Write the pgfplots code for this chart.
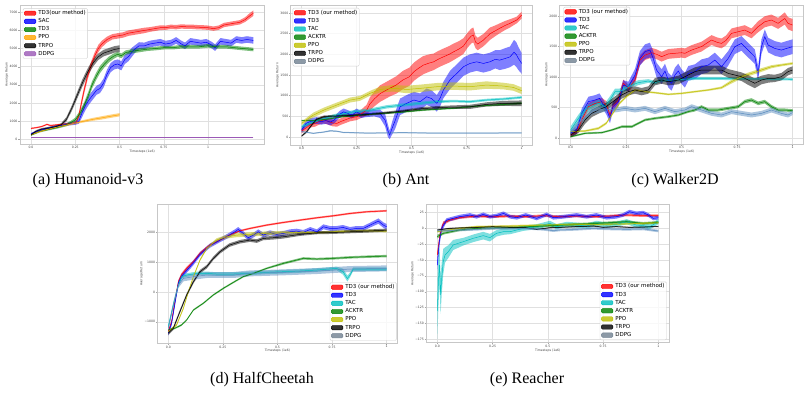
\documentclass[border=0pt]{standalone}
\usepackage{pgfplots}
\pgfplotsset{compat=1.18}
\usepackage{pgfplotstable}
\usepgfplotslibrary{fillbetween}
\usepackage{fontspec}
\newfontfamily\dejavu{DejaVu Sans}
\newfontfamily\timesf{Liberation Serif}
\newcommand{\tickfont}{\dejavu\fontsize{3.1}{3.5}\selectfont}
\newcommand{\labfont}{\dejavu\fontsize{3.1}{3.5}\selectfont}
\newcommand{\legfont}{\dejavu\fontsize{5.5}{6}\selectfont}
\newcommand{\capfont}{\timesf\fontsize{16}{18}\selectfont}

\definecolor{mred}{RGB}{255,0,0}
\definecolor{mblue}{RGB}{0,0,255}
\definecolor{mgreen}{RGB}{0,128,0}
\definecolor{mcyan}{RGB}{0,191,191}
\definecolor{myellow}{RGB}{191,191,0}
\definecolor{morange}{RGB}{255,165,0}
\definecolor{mpurple}{RGB}{155,89,182}
\definecolor{mslate}{RGB}{112,128,144}
\definecolor{mddpg}{RGB}{90,140,190}

% ---------------- Panel (a) Humanoid ----------------
\pgfplotstableread{
x y e
0.000 600 40
0.030 640 40
0.060 700 40
0.090 820 40
0.110 760 40
0.140 790 40
0.170 820 40
0.200 850 50
0.230 880 60
0.255 920 80
0.270 1300 150
0.285 2000 200
0.300 2700 200
0.320 3500 200
0.340 4100 200
0.360 4600 200
0.380 5000 200
0.400 5250 180
0.430 5500 160
0.460 5650 150
0.490 5700 150
0.520 5750 150
0.550 5850 150
0.580 5900 150
0.610 5950 150
0.640 6000 150
0.670 6050 130
0.700 6100 130
0.730 6150 130
0.760 6150 120
0.790 6200 120
0.820 6180 120
0.850 6220 120
0.880 6200 120
0.910 6200 120
0.940 6180 120
0.970 6170 120
1.000 6150 120
1.030 6100 120
1.060 6150 120
1.090 6300 120
1.120 6350 120
1.150 6400 120
1.180 6450 120
1.210 6600 130
1.235 6800 150
1.256 6950 150
}\aRed
\pgfplotstableread{
x y e
0.000 300 50
0.050 500 50
0.100 620 60
0.150 720 60
0.200 820 80
0.250 900 100
0.270 1000 150
0.290 1500 250
0.310 1900 250
0.330 2200 250
0.350 2450 250
0.370 2700 250
0.390 2800 250
0.410 3100 250
0.430 3600 250
0.450 3950 250
0.470 4100 250
0.490 4150 250
0.510 4050 250
0.530 4400 250
0.550 4550 250
0.570 4800 250
0.590 5000 200
0.610 5150 200
0.640 5150 180
0.670 5250 180
0.700 5300 180
0.730 5350 180
0.760 5250 180
0.790 5300 180
0.820 5450 180
0.850 5250 180
0.870 5150 180
0.900 5400 180
0.930 5350 180
0.960 5300 180
0.990 5350 180
1.020 5200 180
1.040 5050 180
1.070 5400 180
1.100 5350 180
1.130 5300 180
1.160 5500 180
1.190 5450 180
1.220 5500 180
1.256 5450 180
}\aBlue
\pgfplotstableread{
x y e
0.000 230 40
0.050 430 50
0.100 540 50
0.150 650 60
0.200 800 80
0.230 950 100
0.250 1070 120
0.275 1400 150
0.300 1850 180
0.325 2450 200
0.345 3000 200
0.370 3500 200
0.390 3850 200
0.415 4150 180
0.440 4400 160
0.465 4570 150
0.490 4690 130
0.510 4600 130
0.535 4780 120
0.580 4870 120
0.620 4920 110
0.660 4970 100
0.700 5000 100
0.750 5050 100
0.800 5050 100
0.850 5100 100
0.900 5100 100
0.950 5100 100
1.000 5150 100
1.050 5100 100
1.100 5100 100
1.150 5050 100
1.200 5000 100
1.256 4950 100
}\aGreen
\pgfplotstableread{
x y e
0.000 250 30
0.050 420 30
0.100 560 30
0.150 680 40
0.200 780 50
0.250 900 60
0.300 1000 70
0.350 1100 80
0.400 1180 90
0.450 1270 90
0.500 1350 90
}\aOrange
\pgfplotstableread{
x y e
0.000 250 50
0.030 450 60
0.060 560 60
0.100 620 60
0.140 700 70
0.170 800 80
0.200 1100 120
0.230 1700 150
0.260 2400 180
0.290 3100 200
0.320 3700 200
0.350 4200 200
0.380 4550 180
0.410 4750 180
0.440 4850 180
0.470 4950 180
0.500 5000 180
}\aBlack
\pgfplotstableread{
x y e
0.000 110 10
0.250 110 10
0.500 110 10
0.750 110 10
1.000 110 10
1.256 110 10
}\aPurple

% ---------------- Panel (b) Ant ----------------
\pgfplotstableread{
x y e
0.000 150 60
0.020 220 60
0.040 300 70
0.060 330 80
0.080 380 80
0.100 420 90
0.120 380 80
0.140 340 80
0.160 330 80
0.180 380 80
0.200 420 80
0.220 460 80
0.250 490 80
0.270 560 100
0.295 650 130
0.310 800 160
0.330 920 180
0.356 1050 200
0.380 1120 200
0.400 1180 200
0.430 1260 210
0.460 1380 220
0.490 1460 220
0.510 1580 220
0.530 1660 220
0.553 1740 220
0.580 1790 210
0.600 1820 200
0.620 1880 200
0.644 1940 200
0.670 2000 200
0.690 2060 200
0.715 2130 190
0.735 2200 190
0.755 2350 180
0.770 2440 180
0.780 2470 180
0.790 2300 150
0.800 2250 150
0.826 2345 150
0.856 2500 150
0.880 2570 130
0.900 2630 120
0.925 2700 110
0.947 2750 100
0.977 2830 80
1.000 2950 80
}\bRed
\pgfplotstableread{
x y e
0.000 170 60
0.020 330 80
0.040 380 80
0.068 400 80
0.090 370 70
0.110 400 80
0.130 360 80
0.150 420 80
0.170 540 80
0.190 610 80
0.210 570 80
0.227 530 80
0.250 610 80
0.270 540 80
0.290 560 80
0.310 570 80
0.330 580 80
0.356 560 100
0.379 410 150
0.392 150 150
0.400 50 100
0.410 200 150
0.425 400 200
0.447 730 200
0.477 815 200
0.510 895 200
0.538 855 200
0.568 975 200
0.590 930 200
0.614 815 200
0.630 950 200
0.644 1137 200
0.674 1380 220
0.705 1540 220
0.735 1700 220
0.765 1780 220
0.795 1820 220
0.826 1780 220
0.856 1820 220
0.880 1880 220
0.900 1860 240
0.925 1900 250
0.947 1940 250
0.965 2050 300
0.975 2000 300
0.985 1900 280
1.000 1780 250
}\bBlue
\pgfplotstableread{
x y e
0.000 250 40
0.053 370 40
0.100 450 40
0.160 530 40
0.235 610 40
0.310 650 40
0.386 730 40
0.462 775 40
0.538 815 40
0.614 855 35
0.690 870 30
0.765 855 30
0.840 895 30
0.917 920 30
1.000 960 30
}\bCyan
\pgfplotstableread{
x y e
0.000 400 15
0.050 400 15
0.100 420 15
0.200 500 15
0.300 550 20
0.450 600 20
0.550 650 20
0.700 700 20
0.800 750 20
0.950 800 30
1.000 820 30
}\bGreen
\pgfplotstableread{
x y e
0.000 330 40
0.030 450 50
0.053 530 60
0.100 650 60
0.160 775 60
0.220 895 60
0.265 935 60
0.310 1055 60
0.356 1150 70
0.417 1180 80
0.477 1150 90
0.538 1177 90
0.614 1217 90
0.689 1233 90
0.765 1217 90
0.840 1257 90
0.917 1233 80
0.962 1200 80
1.000 1120 80
}\bYellow
\pgfplotstableread{
x y e
0.000 25 20
0.023 130 30
0.045 290 30
0.068 430 30
0.100 490 30
0.160 510 30
0.250 530 30
0.356 570 30
0.462 630 30
0.553 690 40
0.660 720 40
0.765 730 50
0.840 790 50
0.917 815 60
1.000 815 70
}\bBlack
\pgfplotstableread{
x y e
0.000 130 15
0.053 90 15
0.100 120 15
0.130 150 20
0.160 140 15
0.190 110 15
0.300 95 15
0.460 105 15
0.600 95 15
0.800 95 15
1.000 100 15
}\bDDPG

% ---------------- Panel (c) Walker2D ----------------
\pgfplotstableread{
x y e
0.000 55 40
0.027 110 40
0.050 300 50
0.080 517 60
0.110 570 60
0.140 600 60
0.162 545 60
0.177 380 60
0.190 517 60
0.215 625 60
0.237 900 60
0.260 817 60
0.290 953 70
0.312 1280 80
0.335 1360 80
0.365 1400 80
0.390 1370 80
0.410 1335 80
0.440 1380 80
0.470 1390 80
0.500 1400 80
0.515 1390 80
0.545 1443 80
0.590 1500 80
0.635 1607 80
0.660 1570 80
0.680 1552 80
0.700 1600 80
0.725 1716 80
0.755 1743 80
0.785 1770 80
0.815 1716 80
0.845 1825 90
0.875 1906 90
0.905 1934 90
0.935 1880 90
0.965 1960 100
0.980 1880 100
1.000 1852 100
}\cRed
\pgfplotstableread{
x y e
0.000 82 40
0.027 136 60
0.050 408 80
0.080 600 80
0.110 626 80
0.130 654 80
0.162 463 80
0.177 327 80
0.190 517 80
0.215 600 80
0.237 870 80
0.260 845 80
0.290 1035 100
0.312 1307 120
0.335 1416 120
0.357 1443 120
0.372 1307 120
0.387 1117 120
0.410 1008 120
0.425 1100 120
0.440 953 120
0.455 900 120
0.470 1035 120
0.485 1100 120
0.500 1008 120
0.515 950 120
0.530 1062 120
0.560 1090 120
0.590 1171 120
0.620 1198 120
0.650 1280 120
0.680 1171 120
0.710 1307 120
0.740 1498 120
0.770 1552 120
0.800 1443 120
0.830 1335 120
0.845 1062 120
0.860 1498 120
0.875 1661 120
0.890 1525 120
0.920 1470 120
0.950 1443 120
0.973 1470 120
1.000 1498 120
}\cBlue
\pgfplotstableread{
x y e
0.000 136 60
0.035 327 60
0.065 463 60
0.095 517 60
0.125 572 60
0.155 517 60
0.177 626 60
0.200 763 50
0.220 763 50
0.245 817 50
0.275 871 40
0.305 910 40
0.350 937 30
0.380 910 30
0.410 953 30
0.470 953 25
0.560 980 25
0.665 980 25
0.770 970 20
0.890 970 20
1.000 965 20
}\cCyan
\pgfplotstableread{
x y e
0.000 27 15
0.065 82 15
0.140 93 15
0.185 136 15
0.230 190 20
0.275 190 20
0.305 245 20
0.335 300 20
0.380 327 20
0.440 354 20
0.485 381 20
0.530 436 20
0.560 463 25
0.590 517 25
0.620 463 25
0.665 463 25
0.710 490 25
0.755 517 25
0.785 600 30
0.815 626 30
0.845 572 30
0.875 600 30
0.905 517 30
0.935 463 25
0.965 463 25
1.000 452 25
}\cGreen
\pgfplotstableread{
x y e
0.000 109 15
0.065 120 15
0.125 163 20
0.160 245 20
0.190 408 20
0.220 572 20
0.250 680 20
0.290 790 20
0.335 763 15
0.380 746 15
0.440 719 15
0.500 735 15
0.560 763 15
0.620 790 15
0.680 828 20
0.725 926 30
0.770 1008 30
0.815 1062 30
0.860 1117 30
0.905 1171 25
0.950 1198 20
1.000 1225 20
}\cYellow
\pgfplotstableread{
x y e
0.000 55 40
0.035 136 50
0.065 300 60
0.095 408 60
0.125 463 60
0.160 517 60
0.200 626 60
0.230 708 60
0.260 763 60
0.290 790 60
0.320 763 60
0.350 790 60
0.380 926 60
0.410 953 60
0.440 926 60
0.485 953 70
0.515 1008 70
0.560 1090 70
0.590 1117 70
0.635 1117 70
0.680 1117 70
0.710 1062 70
0.740 1035 70
0.770 1008 70
0.800 953 80
0.830 900 80
0.860 953 70
0.890 980 70
0.920 980 60
0.950 1008 60
0.980 1090 60
1.000 1117 60
}\cBlack
\pgfplotstableread{
x y e
0.000 100 40
0.050 300 50
0.100 450 50
0.150 480 50
0.200 463 40
0.245 490 40
0.290 463 40
0.335 490 40
0.380 436 40
0.425 490 40
0.470 436 40
0.515 463 40
0.545 517 40
0.590 463 40
0.635 408 40
0.680 381 40
0.725 436 40
0.770 408 40
0.815 381 40
0.860 408 40
0.905 463 40
0.950 408 40
0.980 381 40
1.000 420 40
}\cDDPG

% ---------------- Panel (d) HalfCheetah ----------------
\pgfplotstableread{
x y e
0.000 -1327 50
0.015 -992 60
0.030 -323 60
0.046 345 60
0.060 569 60
0.084 790 60
0.115 1015 50
0.145 1293 50
0.190 1572 40
0.237 1740 30
0.280 1907 30
0.328 2050 30
0.374 2130 30
0.450 2241 30
0.527 2330 30
0.603 2408 30
0.680 2486 30
0.756 2553 30
0.832 2631 30
0.908 2687 30
1.000 2720 30
}\dRed
\pgfplotstableread{
x y e
0.000 -1380 80
0.015 -1050 80
0.030 -400 80
0.046 300 80
0.060 520 80
0.084 720 80
0.100 850 80
0.115 980 80
0.145 1260 70
0.190 1550 70
0.237 1740 70
0.280 1907 80
0.305 2018 80
0.320 2096 80
0.343 1962 80
0.366 1817 80
0.390 1907 80
0.412 2018 80
0.435 1907 80
0.466 1985 80
0.496 1930 80
0.527 1962 80
0.557 2018 80
0.588 2040 80
0.618 1996 80
0.650 2096 80
0.680 2018 80
0.710 2185 80
0.740 2130 80
0.770 2130 80
0.800 2163 80
0.832 2096 80
0.862 2130 80
0.893 2130 80
0.924 2241 80
0.962 2375 90
0.985 2241 90
1.000 2185 90
}\dBlue
\pgfplotstableread{
x y e
0.000 -1160 80
0.023 -435 80
0.046 234 80
0.061 513 60
0.084 569 60
0.130 624 60
0.176 624 60
0.221 602 60
0.298 602 60
0.374 624 60
0.450 658 60
0.527 680 60
0.603 702 60
0.680 736 60
0.771 791 60
0.800 680 100
0.820 450 100
0.832 569 80
0.847 769 60
0.908 769 60
1.000 769 60
}\dCyan
\pgfplotstableread{
x y e
0.000 -1271 30
0.030 -1215 30
0.061 -1104 30
0.084 -937 30
0.115 -602 30
0.160 -379 30
0.206 -100 30
0.252 123 30
0.298 323 30
0.343 513 30
0.390 624 30
0.450 791 30
0.527 959 40
0.588 1070 40
0.618 1126 40
0.680 1104 40
0.756 1126 40
0.832 1160 40
0.908 1182 40
1.000 1204 40
}\dGreen
\pgfplotstableread{
x y e
0.000 -1327 40
0.038 -1104 40
0.069 -546 40
0.092 11 40
0.115 513 40
0.145 1070 40
0.176 1460 40
0.221 1740 60
0.267 1851 60
0.313 1907 70
0.374 1930 70
0.450 1962 70
0.527 1985 60
0.603 1996 50
0.680 1985 40
0.756 2018 40
0.832 2040 40
0.908 2050 40
1.000 2040 40
}\dYellow
\pgfplotstableread{
x y e
0.000 -1383 60
0.023 -1215 60
0.053 -658 60
0.084 -100 60
0.115 345 60
0.145 680 60
0.176 847 60
0.206 1126 60
0.237 1349 60
0.280 1572 60
0.328 1684 60
0.374 1740 60
0.405 1706 60
0.435 1795 60
0.480 1817 60
0.527 1851 60
0.603 1930 50
0.680 1985 50
0.756 1996 50
0.832 2018 50
0.908 2040 50
1.000 2074 50
}\dBlack
\pgfplotstableread{
x y e
0.000 -1215 100
0.023 -435 100
0.046 234 100
0.069 457 100
0.115 513 100
0.176 569 100
0.298 569 100
0.374 624 100
0.527 658 100
0.680 702 100
0.832 769 100
1.000 791 100
}\dDDPG

% ---------------- Panel (e) Reacher ----------------
\pgfplotstableread{
x y e
0.000 -42 5
0.012 -10 4
0.027 8 3
0.057 13 2
0.100 16.8 2
0.178 19.4 2
0.250 18.3 2
0.330 19.4 2
0.400 18.3 2
0.480 20 2
0.555 18.3 2
0.630 19.4 2
0.706 18.3 2
0.780 19.4 2
0.857 21 2
0.932 20 2
1.000 20 2
}\eRed
\pgfplotstableread{
x y e
0.000 -57.6 10
0.009 -21 8
0.020 0 5
0.042 13 3
0.072 15.7 3
0.100 18.3 3
0.148 21 3
0.178 18.3 3
0.208 22 3
0.238 18.3 3
0.268 20 3
0.300 23.6 3
0.330 18.3 3
0.360 16.8 3
0.400 21 3
0.450 15.7 3
0.495 22 3
0.525 16.8 3
0.570 18.3 3
0.630 21 3
0.676 18.3 3
0.720 21 3
0.766 16.8 3
0.810 18.3 3
0.840 21 3
0.870 26.2 3
0.900 23.6 3
0.932 24.6 3
0.955 21 3
0.977 15.7 3
1.000 16.8 3
}\eBlue
\pgfplotstableread{
x y e
0.000 -130 45
0.005 -84 40
0.010 -57.6 30
0.015 -105 30
0.020 -78.6 25
0.027 -52.4 20
0.035 -42 12
0.050 -36.7 10
0.072 -26.2 8
0.118 -21 6
0.163 -15.7 6
0.208 -11.5 6
0.238 -14.7 6
0.268 -7.9 5
0.300 -5.2 5
0.330 -5.2 4
0.390 0 4
0.450 2.6 4
0.510 7.9 4
0.540 2.6 4
0.585 6.3 4
0.630 5.2 4
0.676 3.7 4
0.720 7.9 4
0.766 5.2 4
0.810 6.3 4
0.857 10.5 4
0.900 5.2 4
0.932 4.2 4
0.962 2.6 4
1.000 10.5 4
}\eCyan
\pgfplotstableread{
x y e
0.000 -13 3
0.027 -7.9 2
0.100 -2.6 2
0.178 0 2
0.330 1 2
0.480 3.7 2
0.630 6.3 2
0.780 8.9 2
0.857 10.5 2
0.932 7.9 2
1.000 9.4 2
}\eGreen
\pgfplotstableread{
x y e
0.000 -5.2 1.5
0.100 0 1.5
0.178 2.6 1.5
0.330 3.7 1.5
0.480 5.2 1.5
0.630 6.3 1.5
0.780 6.3 1.5
0.932 7.9 1.5
1.000 8.9 1.5
}\eYellow
\pgfplotstableread{
x y e
0.000 -2.6 1
0.057 0 1
0.178 1.6 1
0.250 2.6 1
0.330 1.6 1
0.400 1 1
0.450 -1.6 1
0.510 1 1
0.555 1.6 1
0.630 2.6 1
0.706 3.7 1
0.750 1.6 1
0.810 2.6 1
0.870 1.6 1
0.932 2 1
1.000 3 1
}\eBlack
\pgfplotstableread{
x y e
0.000 -4.2 2
0.100 -2.6 2
0.178 -1.6 2
0.250 0 2
0.330 0 2
0.400 0 2
0.480 -1.6 2
0.525 -3.7 2
0.555 -2.6 2
0.630 -1.6 2
0.706 0 2
0.780 -1 2
0.857 -1.6 2
0.932 -1 2
1.000 -4.2 2
}\eDDPG

\newcommand{\series}[3]{%
\addplot[name path=#3U, draw=none, forget plot] table[x=x, y expr=\thisrow{y}+\thisrow{e}] {#1};
\addplot[name path=#3L, draw=none, forget plot] table[x=x, y expr=\thisrow{y}-\thisrow{e}] {#1};
\addplot[fill=#2, fill opacity=0.5, draw=none, forget plot] fill between[of=#3U and #3L];
\addplot[draw=#2, line width=0.5pt, forget plot] table[x=x, y=y] {#1};
}
\newcommand{\leg}[2]{\addlegendimage{legend image code/.code={\fill[#1] (0pt,-2.2pt) rectangle (11.5pt,2.2pt);}}\addlegendentry{#2}}

\pgfplotsset{panel/.style={
  scale only axis, anchor=south west,
  axis line style={black!22, line width=0.6pt},
  grid=major, major grid style={black!12, line width=0.5pt},
  tick style={black!35, line width=0.4pt}, major tick length=1.6pt,
  tick align=outside, tick pos=left,
  ticklabel style={font=\tickfont, text=black!75, inner sep=0.6pt},
  label style={font=\labfont, text=black!75, inner sep=0.6pt},
  xlabel={Timesteps (1e6)}, ylabel={Average Return},
  xtick={0,0.25,0.5,0.75,1}, xticklabels={0.0,0.25,0.5,0.75,1},
  legend cell align=left,
  legend style={font=\legfont, draw=black!18, rounded corners=1.2pt, fill=white,
    fill opacity=0.8, text opacity=1, inner xsep=1.2pt, inner ysep=1.4pt,
    row sep=1.5pt, nodes={inner sep=0.7pt, text height=4pt, text depth=1.2pt},
    /tikz/every odd column/.append style={column sep=1.5pt}},
}}

\begin{document}
\begin{tikzpicture}

% (a)
\begin{axis}[panel, at={(19.85pt,-143.8pt)}, width=244.65pt, height=138.9pt,
  xmin=-0.063, xmax=1.319, ymin=-250, ymax=7408,
  ytick={0,1000,2000,3000,4000,5000,6000,7000},
  yticklabels={0,1000,2000,3000,4000,5000,6000,7000},
  legend style={at={(0.012,0.975)}, anchor=north west}]
\series{\aRed}{mred}{aa}
\series{\aBlue}{mblue}{ab}
\series{\aGreen}{mgreen}{ac}
\series{\aOrange}{morange}{ad}
\series{\aBlack}{black}{ae}
\series{\aPurple}{mpurple}{af}
\leg{mred}{TD3(our method)}
\leg{mblue}{SAC}
\leg{mgreen}{TD3}
\leg{morange}{PPO}
\leg{black}{TRPO}
\leg{mpurple}{DDPG}
\end{axis}

% (b)
\begin{axis}[panel, at={(290.7pt,-145pt)}, width=242pt, height=140pt,
  xmin=-0.05, xmax=1.05, ymin=-193, ymax=3194,
  ytick={0,500,1000,1500,2000,2500,3000},
  yticklabels={0,500,1000,1500,2000,2500,3000},
  legend style={at={(0.008,0.979)}, anchor=north west}]
\series{\bRed}{mred}{ba}
\series{\bBlue}{mblue}{bb}
\series{\bCyan}{mcyan}{bc}
\series{\bGreen}{mgreen}{bd}
\series{\bYellow}{myellow}{be}
\series{\bBlack}{black}{bf}
\series{\bDDPG}{mddpg}{bg}
\leg{mred}{TD3 (our method)}
\leg{mblue}{TD3}
\leg{mcyan}{TAC}
\leg{mgreen}{ACKTR}
\leg{myellow}{PPO}
\leg{black}{TRPO}
\leg{mslate}{DDPG}
\end{axis}

% (c)
\begin{axis}[panel, at={(559.6pt,-144pt)}, width=244pt, height=139pt,
  xmin=-0.05, xmax=1.05, ymin=-93, ymax=2180,
  ytick={0,500,1000,1500,2000},
  yticklabels={0,500,1000,1500,2000},
  legend style={at={(0.015,0.986)}, anchor=north west}]
\series{\cRed}{mred}{ca}
\series{\cBlue}{mblue}{cb}
\series{\cCyan}{mcyan}{cc}
\series{\cGreen}{mgreen}{cd}
\series{\cYellow}{myellow}{ce}
\series{\cBlack}{black}{cf}
\series{\cDDPG}{mddpg}{cg}
\leg{mred}{TD3 (our method)}
\leg{mblue}{TD3}
\leg{mcyan}{TAC}
\leg{mgreen}{ACKTR}
\leg{myellow}{PPO}
\leg{black}{TRPO}
\leg{mslate}{DDPG}
\end{axis}

% (d)
\begin{axis}[panel, at={(157.4pt,-343.3pt)}, width=240.2pt, height=139pt,
  xmin=-0.05, xmax=1.05, ymin=-1719, ymax=2938,
  ytick={-1000,0,1000,2000},
  yticklabels={−1000,0,1000,2000},
  legend style={at={(0.996,0.019)}, anchor=south east}]
\series{\dRed}{mred}{da}
\series{\dBlue}{mblue}{db}
\series{\dCyan}{mcyan}{dc}
\series{\dGreen}{mgreen}{dd}
\series{\dYellow}{myellow}{de}
\series{\dBlack}{black}{df}
\series{\dDDPG}{mddpg}{dg}
\leg{mred}{TD3 (our method)}
\leg{mblue}{TD3}
\leg{mcyan}{TAC}
\leg{mgreen}{ACKTR}
\leg{myellow}{PPO}
\leg{black}{TRPO}
\leg{mslate}{DDPG}
\end{axis}

% (e)
\begin{axis}[panel, at={(426.25pt,-342.7pt)}, width=243.1pt, height=138.4pt,
  xmin=-0.05, xmax=1.05, ymin=-180.4, ymax=37.9,
  ytick={-175,-150,-125,-100,-75,-50,-25,0,25},
  yticklabels={−175,−150,−125,−100,−75,−50,−25,0,25},
  legend style={at={(0.989,0.0195)}, anchor=south east}]
\series{\eRed}{mred}{ea}
\series{\eBlue}{mblue}{eb}
\series{\eCyan}{mcyan}{ec}
\series{\eGreen}{mgreen}{ed}
\series{\eYellow}{myellow}{ee}
\series{\eBlack}{black}{ef}
\series{\eDDPG}{mddpg}{eg}
\leg{mred}{TD3 (our method)}
\leg{mblue}{TD3}
\leg{mcyan}{TAC}
\leg{mgreen}{ACKTR}
\leg{myellow}{PPO}
\leg{black}{TRPO}
\leg{mslate}{DDPG}
\end{axis}

\node[font=\capfont, anchor=base] at (88pt,-184pt) {(a) Humanoid-v3};
\node[font=\capfont, anchor=base] at (406pt,-184pt) {(b) Ant};
\node[font=\capfont, anchor=base] at (675pt,-184pt) {(c) Walker2D};
\node[font=\capfont, anchor=base] at (262pt,-383pt) {(d) HalfCheetah};
\node[font=\capfont, anchor=base] at (527pt,-383pt) {(e) Reacher};

\pgfresetboundingbox
\path[use as bounding box] (0,0) rectangle (804pt,-394pt);
\end{tikzpicture}
\end{document}
